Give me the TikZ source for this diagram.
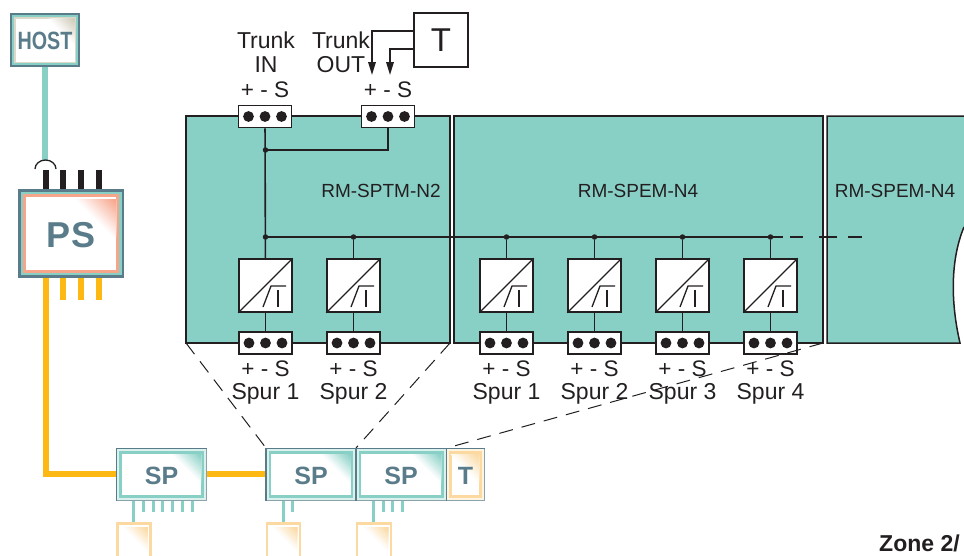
\documentclass[tikz,border=0pt]{standalone}
\usepackage{fontspec}
\setmainfont{Liberation Sans}
\usetikzlibrary{arrows.meta}
\definecolor{modteal}{HTML}{88D0C6}
\definecolor{slateb}{HTML}{5A7C8A}
\definecolor{ink}{HTML}{231F20}
\definecolor{orng}{HTML}{FDB813}
\definecolor{peach}{HTML}{FBD9A0}
\definecolor{salmon}{HTML}{F7A58A}
\definecolor{beige}{HTML}{CFCBB8}
\tikzset{
  module/.style={draw=ink,line width=1.5pt,fill=modteal},
  wire/.style={draw=ink,line width=1.6pt},
  term/.style={draw=ink,line width=1.5pt,fill=white,minimum width=53pt,minimum height=22pt,inner sep=0pt},
  conv/.style={draw=ink,line width=1.5pt,fill=white,minimum width=53pt,minimum height=53pt,inner sep=0pt},
  lab/.style={inner sep=0pt,font=\fontsize{23}{24}\selectfont,text=ink},
  plus/.style={inner sep=0pt,font=\fontsize{22.5}{24}\selectfont,text=ink},
  modlab/.style={inner sep=0pt,font=\fontsize{19}{20}\selectfont,text=ink},
  dashl/.style={draw=ink,line width=1pt,dash pattern=on 14pt off 9pt},
  tlab/.style={inner sep=0pt,text=slateb},
  dot/.style={circle,fill=ink,inner sep=0pt,minimum size=5.5pt},
}
% #1 name, #2 centre x, #3 centre y
\newcommand{\termblock}[3]{%
  \node[term] (#1) at (#2,#3) {};
  \fill[ink] ({#2-16.5},#3) circle (5.4) (#2,#3) circle (5.4) ({#2+16.5},#3) circle (5.4);
}
% #1 name, #2 centre x
\newcommand{\spurchain}[2]{%
  \node[conv] (#1c) at (#2,285.5) {};
  \draw[ink,line width=1.3pt] (#1c.south west) -- (#1c.north east);
  \draw[ink,line width=1.3pt] ({#2-2.5},307) -- ({#2+5.5},286) -- ({#2+20.5},286);
  \draw[ink,line width=1.8pt] ({#2+12.5},290) -- ({#2+12.5},307);
  \termblock{#1t}{#2}{343}
  \draw[wire] (#1c) -- (#1t);
}
% corner-gradient as nested triangles: #1 x right, #2 y top, #3 size, #4 colour
\newcommand{\cornerfade}[4]{%
  \foreach \k in {1,...,18}{%
    \pgfmathsetmacro\pc{\k*100/18}%
    \pgfmathsetmacro\sz{(#3)*(19-\k)/18}%
    \fill[#4!\pc!white] ({#1},{#2}) -- ({#1-\sz},{#2}) -- ({#1},{#2+\sz}) -- cycle;
  }%
}
% frame: #1 x0, #2 y0, #3 x1, #4 y1, #5 ring colour, #6 corner colour
\newcommand{\devframe}[6]{%
  \fill[#5!30!white] (#1,#2) rectangle (#3,#4);
  \draw[slateb!70!white,line width=1pt] (#1,#2) rectangle (#3,#4);
  \draw[slateb,line width=1.6pt] (#1,#4) -- (#1,#2) -- (#3,#2);
  \draw[#5,line width=2.4pt,fill=white] ({#1+4},{#2+4}) rectangle ({#3-4},{#4-4});
  \cornerfade{#3-5.5}{#2+5.5}{0.55*(#4-#2)}{#6}
}
\begin{document}
\begin{tikzpicture}[x=1pt,y=-1pt]
\useasboundingbox (0,0) rectangle (964,555);
% modules
\path[module] (186,116) rectangle (450,343);
\path[module] (454,116) rectangle (823,343);
\path[fill=modteal] (827,116) -- (964,116) -- (964,227) .. controls (951,258) and (950,300) .. (960,343) -- (827,343) -- cycle;
\draw[ink,line width=1.5pt] (964,116) -- (827,116) -- (827,343) -- (960,343) .. controls (950,300) and (951,258) .. (964,227);
\node[modlab] (m1) at (381,190.5) {RM-SPTM-N2};
\node[modlab] (m2) at (638,190.5) {RM-SPEM-N4};
\node[modlab] (m3) at (895,190.5) {RM-SPEM-N4};
% trunk terminals
\termblock{tin}{265}{116.5}
\termblock{tout}{388}{116.5}
\node[lab] (l1) at (266,40) {Trunk};
\node[lab] (l2) at (266,64.5) {IN};
\node[lab] (l3) at (341,40) {Trunk};
\node[lab] (l4) at (341,64.5) {OUT};
\node[plus] (p1) at (265,90) {+ - S};
\node[plus] (p2) at (388,90) {+ - S};
% T box
\node[draw=ink,line width=1.5pt,fill=white,minimum width=54pt,minimum height=54pt,inner sep=0pt,font=\fontsize{33}{33}\selectfont,text=ink] (tbox) at (441,40) {T};
\coordinate (a1) at (372,75);
\coordinate (a2) at (390,75);
\coordinate (t1) at (414,31);
\coordinate (t2) at (414,49);
\draw[wire,-{Triangle[length=13pt,width=7.5pt]}] (t1) -- (372,31) -- (a1);
\draw[wire,-{Triangle[length=13pt,width=7.5pt]}] (t2) -- (390,49) -- (a2);
% bus
\coordinate (busr) at (783,237);
\coordinate (busend) at (862,237);
\coordinate (j1) at (265.5,150);
\coordinate (j2) at (265.5,237);
% spur chains
\spurchain{sa}{265.5}
\spurchain{sb}{353.5}
\spurchain{sc}{506.5}
\spurchain{sd}{594.5}
\spurchain{se}{682.5}
\spurchain{sf}{770.5}
\draw[wire] (tin) -- (sac);
\draw[wire] (j1) -- (388,150) -- (tout);
\draw[wire] (j2) -- (busr);
\draw[wire,dash pattern=on 13pt off 16pt on 18pt off 11pt on 14pt off 20pt] (790,237) -- (busend);
\foreach \x/\y [count=\i] in {265.5/150,265.5/237,353.5/237,506.5/237,594.5/237,682.5/237,770.5/237}
  \node[dot] (d\i) at (\x,\y) {};
\draw[wire] (d3) -- (sbc);
\draw[wire] (d4) -- (scc);
\draw[wire] (d5) -- (sdc);
\draw[wire] (d6) -- (sec);
\draw[wire] (d7) -- (sfc);
\foreach \n/\x/\t in {sc1/265.5/Spur 1,sc2/353.5/Spur 2,sc3/506.5/Spur 1,sc4/594.5/Spur 2,sc5/682.5/Spur 3,sc6/770.5/Spur 4}{
  \node[plus] (\n p) at (\x,369) {+ - S};
  \node[lab] (\n s) at (\x,394) {\t};
}
% left column
\draw[modteal,line width=6pt] (45,67) -- (45,160);
\fill[slateb] (10,13) rectangle (80,67);
\fill[modteal] (11.7,14.7) rectangle (78.3,65.3);
\fill[beige!75!white] (13.7,16.7) rectangle (76.3,63.3);
\fill[white] (15.5,18.5) rectangle (74.5,61.5);
\cornerfade{74.5}{18.5}{26}{beige}
\node[tlab,font=\bfseries\fontsize{25}{25}\selectfont,xscale=.79] (host) at (45,41) {HOST};
\draw[ink,line width=1.3pt] (35,169) arc[start angle=180,end angle=360,x radius=10.5,y radius=9];
\foreach \x in {45.5,63,81,98.5}{
  \draw[ink,line width=6pt] (\x,170) -- (\x,189);
  \draw[orng,line width=6pt] (\x,277) -- (\x,300);
}
\draw[orng,line width=6pt] (45.5,299) -- (45.5,474) -- (117,474);
\draw[orng,line width=6pt] (207,474) -- (266,474);
\fill[slateb] (18,189) rectangle (124,277.5);
\fill[modteal] (20.5,191.5) rectangle (121.5,275);
\fill[salmon] (23,194) rectangle (119,272.5);
\fill[white] (26,197) rectangle (116,269.5);
\cornerfade{116}{199}{40}{salmon}
\node[tlab,font=\bfseries\fontsize{36}{36}\selectfont] (ps) at (71,235) {PS};
% dashed links
\draw[dashl] (186,343) -- (266,448);
\draw[dashl] (450,343) -- (356,448);
\draw[dashl] (823,343) -- (447,448);
% stubs
\foreach \x in {143,153,162,172,182,192,292.5,383,392.5,402} \draw[modteal,line width=3pt] (\x,501) -- (\x,512);
\foreach \x in {133.5,283,373} \draw[modteal,line width=3pt] (\x,501) -- (\x,523);
% SP row
\devframe{116.5}{448.5}{206.5}{500.5}{modteal}{modteal}
\devframe{266}{448.5}{356}{500.5}{modteal}{modteal}
\devframe{356}{448.5}{446.5}{500.5}{modteal}{modteal}
\devframe{446.5}{448.5}{484.5}{500.5}{peach}{peach}
\foreach \n/\x/\t in {sp1/161.5/SP,sp2/311/SP,sp3/401/SP,tt/465.5/T}
  \node[tlab,font=\bfseries\fontsize{25}{25}\selectfont] (\n) at (\x,476) {\t};
% fuse boxes
\foreach \x/\w in {116.5/35,266/35,356/36}{
  \draw[peach,line width=2.8pt,fill=white] (\x+1,556) -- (\x+1,523.5) -- (\x+\w-1,523.5) -- (\x+\w-1,556);
  \cornerfade{\x+\w-4}{527}{24}{peach}
}
\node[inner sep=0pt,anchor=base west,font=\bfseries\fontsize{23}{23}\selectfont,text=ink] (zone) at (879,551) {Zone 2/};
\end{tikzpicture}
\end{document}
